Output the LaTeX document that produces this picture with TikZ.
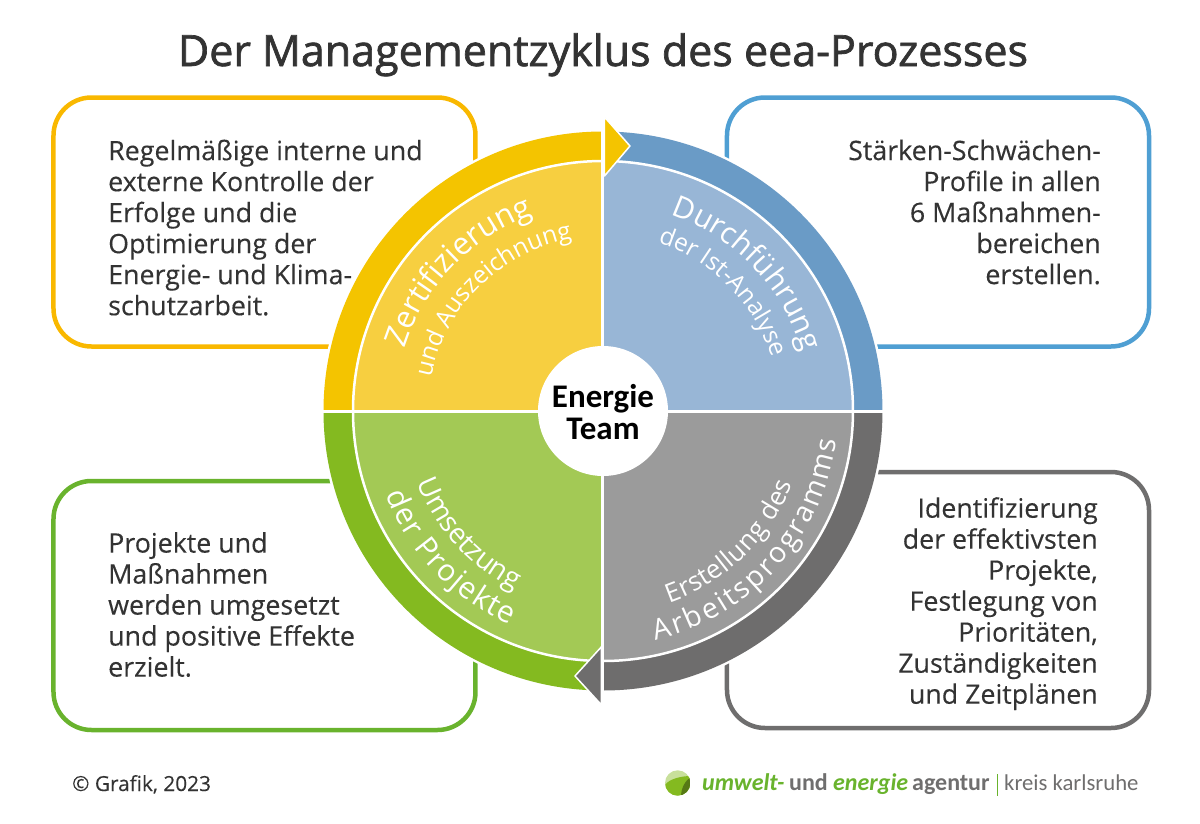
\documentclass[tikz,border=0pt]{standalone}
\usepackage{fontspec}
\setmainfont{Open Sans}[FakeBold=0.25]
\newfontfamily\headfont{Open Sans}[FakeBold=1.6]
\newfontfamily\arcfont{Open Sans}
\newfontfamily\logofont{Carlito}
\usetikzlibrary{decorations.text}

\definecolor{amberline}{HTML}{F9B800}
\definecolor{blueline}{HTML}{4F9FD3}
\definecolor{greenline}{HTML}{69B32D}
\definecolor{greyline}{HTML}{6F6E6E}
\definecolor{amberring}{HTML}{F4C400}
\definecolor{bluering}{HTML}{6A9BC6}
\definecolor{greenring}{HTML}{84BA20}
\definecolor{greyring}{HTML}{6E6D6D}
\definecolor{ambersec}{HTML}{F7CF40}
\definecolor{bluesec}{HTML}{98B6D6}
\definecolor{greensec}{HTML}{A3C955}
\definecolor{greysec}{HTML}{9B9B9B}
\definecolor{bodytext}{HTML}{333333}

\tikzset{
    infobox/.style={draw=#1,line width=4.5pt,rounded corners=38pt,minimum width=422pt,inner sep=0pt},
    boxtext/.style={font=\fontsize{26.8}{31}\selectfont,text=bodytext,inner sep=0pt},
    logotext/.style={font=\logofont\fontsize{24}{24}\selectfont\bfseries,inner sep=0pt,anchor=base west},
}

\newcommand{\arclabel}[5]{%
    \path[decorate,decoration={text along path,text align={fit to path},
        text={|\arcfont\fontsize{#1}{#1}\selectfont\color{white}|#2}}]
        (#3:#4) arc[start angle=#3,end angle=#5,radius=#4];}

\begin{document}
\begin{tikzpicture}[x=1pt,y=1pt]
    \useasboundingbox (-603,411) rectangle (597,-412);

    \node[font=\headfont\fontsize{43}{43}\selectfont,text=bodytext,anchor=base,inner sep=0pt] (title) at (0,345) {Der Managementzyklus des eea-Prozesses};

    % boxes
    \node[infobox=amberline,minimum height=249pt] (box1) at (-338.5,189) {};
    \node[infobox=blueline,minimum height=249pt]  (box2) at (335,189) {};
    \node[infobox=greenline,minimum height=249pt] (box3) at (-338.5,-194.5) {};
    \node[infobox=greyline,minimum height=256pt]  (box4) at (335,-189) {};

    \node[boxtext,align=left,anchor=north west]  (text1) at (-495,271.5) {Regelmäßige interne und\\externe Kontrolle der\\Erfolge und die\\Optimierung der\\Energie- und Klima-\\schutzarbeit.};
    \node[boxtext,align=right,anchor=north east] (text2) at (498,271.5) {Stärken-Schwächen-\\Profile in allen\\6 Maßnahmen-\\bereichen\\erstellen.};
    \node[boxtext,align=left,anchor=north west]  (text3) at (-495,-121) {Projekte und\\Maßnahmen\\werden umgesetzt\\und positive Effekte\\erzielt.};
    \node[boxtext,align=right,anchor=north east] (text4) at (495,-86) {Identifizierung\\der effektivsten\\Projekte,\\Festlegung von\\Prioritäten,\\Zuständigkeiten\\und Zeitplänen};

    % ring and sectors
    \fill[white] (0,0) circle[radius=282pt];
    \foreach \start/\ringcol/\seccol in {90/amberring/ambersec,0/bluering/bluesec,180/greenring/greensec,270/greyring/greysec} {
        \fill[\ringcol] (0,0) -- (\start:279.5) arc[start angle=\start,delta angle=90,radius=279.5pt] -- cycle;
        \fill[\seccol] (0,0) -- (\start:250) arc[start angle=\start,delta angle=90,radius=250pt] -- cycle;
    }
    \draw[white,line width=2.5pt] (0,0) circle[radius=250pt];
    \draw[white,line width=3pt] (-282,0) -- (282,0) (0,282) -- (0,-282);

    % arrow heads
    \filldraw[fill=amberring,draw=white,line width=1.5pt,line join=round] (1.5,294) -- (27,265) -- (1.5,235) -- cycle;
    \filldraw[fill=greyring,draw=white,line width=1.5pt,line join=round] (-1.5,-235.7) -- (-28,-265) -- (-1.5,-294) -- cycle;

    % curved labels
    \arclabel{31}{Zertifizierung}{162.5}{208}{110}
    \arclabel{24.5}{und Auszeichnung}{169}{175}{100.5}
    \arclabel{30}{Durchführung}{71}{208}{17.5}
    \arclabel{24.5}{der Ist-Analyse}{72}{177}{19.5}
    \arclabel{28}{Umsetzung}{201}{199}{243}
    \arclabel{30}{der Projekte}{201}{233}{246.5}
    \arclabel{26}{Erstellung des}{-71}{203}{-21}
    \arclabel{28.5}{Arbeitsprogramms}{-77}{235}{-7}

    \node[circle,fill=white,minimum size=130pt,inner sep=0pt] (team) at (0,0) {};
    \node[font=\logofont\bfseries\fontsize{33}{32}\selectfont,align=center,inner sep=0pt] (teamtext) at (0,-1) {Energie\\Team};

    % footer
    \node[font=\fontsize{20.8}{20.8}\selectfont,text=bodytext,anchor=base west,inner sep=0pt] (credit) at (-531,-380) {© Grafik, 2023};

    \begin{scope}
        \clip (74.7,-372) circle[radius=12.7pt];
        \fill[greenring!45!white] (61,-386) rectangle (88,-358);
        \fill[greenring] (62,-386) -- (62,-374) .. controls (66,-368) and (78,-365) .. (88,-365) -- (88,-386) -- cycle;
        \fill[greenring!65!black] (78,-386) .. controls (78,-376) and (83,-369) .. (88,-366) -- (88,-386) -- cycle;
    \end{scope}
    \node[logotext,text=greenline,font=\logofont\fontsize{24}{24}\selectfont\bfseries\itshape] (logo1) at (99,-379) {umwelt-};
    \node[logotext,text=greyline] (logo2) at (186,-379) {und};
    \node[logotext,text=greenline,font=\logofont\fontsize{24}{24}\selectfont\bfseries\itshape] (logo3) at (230,-379) {energie};
    \node[logotext,text=greyline] (logo4) at (309,-379) {agentur};
    \draw[greenline,line width=1.2pt] (394.5,-363) -- (394.5,-385);
    \node[logotext,text=greyline,font=\logofont\fontsize{22.7}{24}\selectfont] (logo5) at (401,-379) {kreis karlsruhe};
\end{tikzpicture}
\end{document}
